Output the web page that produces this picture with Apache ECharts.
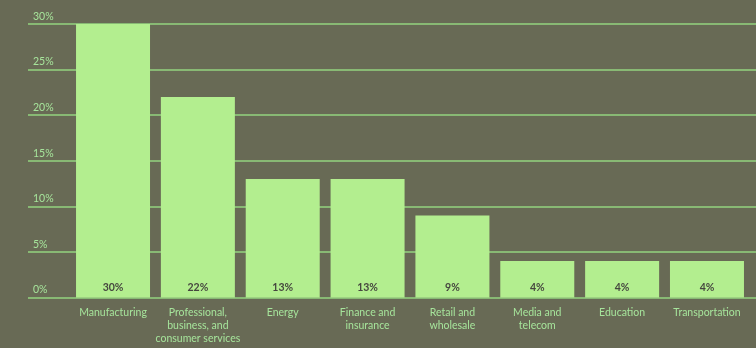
<!DOCTYPE html>
<html>
<head>
<meta charset="utf-8">
<script src="https://cdn.jsdelivr.net/npm/echarts@6/dist/echarts.min.js"></script>
<style>
  html, body { margin: 0; padding: 0; background: #686a55; }
  #chart { width: 756px; height: 348px; }
</style>
</head>
<body>
<div id="chart"></div>
<script>
// Share of adoption by industry
const categories = [
  'Manufacturing',
  'Professional,\nbusiness, and\nconsumer services',
  'Energy',
  'Finance and\ninsurance',
  'Retail and\nwholesale',
  'Media and\ntelecom',
  'Education',
  'Transportation'
];
const shares = [30, 22, 13, 13, 9, 4, 4, 4];
const yTicks = [0, 5, 10, 15, 20, 25, 30];

const BG = '#686a55';
const BAR = '#b3ee8f';
const GRID = '#93d47f';
const TEXT = '#a6e49b';
const FONT = 'Lato';

const chart = echarts.init(document.getElementById('chart'), null, { renderer: 'canvas' });

chart.setOption({
  backgroundColor: BG,
  animation: false,
  grid: [
    // wide grid carrying gridlines and percentage labels
    { left: 28, right: 0, top: 24, bottom: 50.5 },
    // bars grid
    { left: 70.6, right: 6.6, top: 24, bottom: 50.5 }
  ],
  xAxis: [
    { type: 'value', gridIndex: 0, show: false, min: 0, max: 1 },
    {
      type: 'category', gridIndex: 1, data: categories,
      axisLine: { show: false }, axisTick: { show: false },
      axisLabel: {
        color: TEXT, fontFamily: FONT, fontSize: 10.5, lineHeight: 13,
        margin: 9, interval: 0
      }
    }
  ],
  yAxis: [
    {
      type: 'value', gridIndex: 0, min: 0, max: 30, interval: 5,
      axisLine: { show: false }, axisTick: { show: false },
      splitLine: { lineStyle: { color: GRID, width: 1.5 } },
      axisLabel: {
        inside: true, margin: 5, color: TEXT, fontFamily: FONT, fontSize: 10.5,
        verticalAlign: 'bottom', padding: [0, 0, 2, 0],
        formatter: v => yTicks.includes(v) ? v + '%' : ''
      }
    },
    {
      type: 'value', gridIndex: 1, min: 0, max: 30, interval: 5, show: false
    }
  ],
  series: [
    {
      type: 'bar', xAxisIndex: 1, yAxisIndex: 1,
      data: shares, barWidth: 74,
      itemStyle: { color: BAR },
      label: {
        show: true, position: 'insideBottom', distance: 4,
        formatter: p => p.value + '%',
        color: '#46473f', fontFamily: FONT, fontWeight: 'bold', fontSize: 10.5
      }
    }
  ]
});
</script>
</body>
</html>
